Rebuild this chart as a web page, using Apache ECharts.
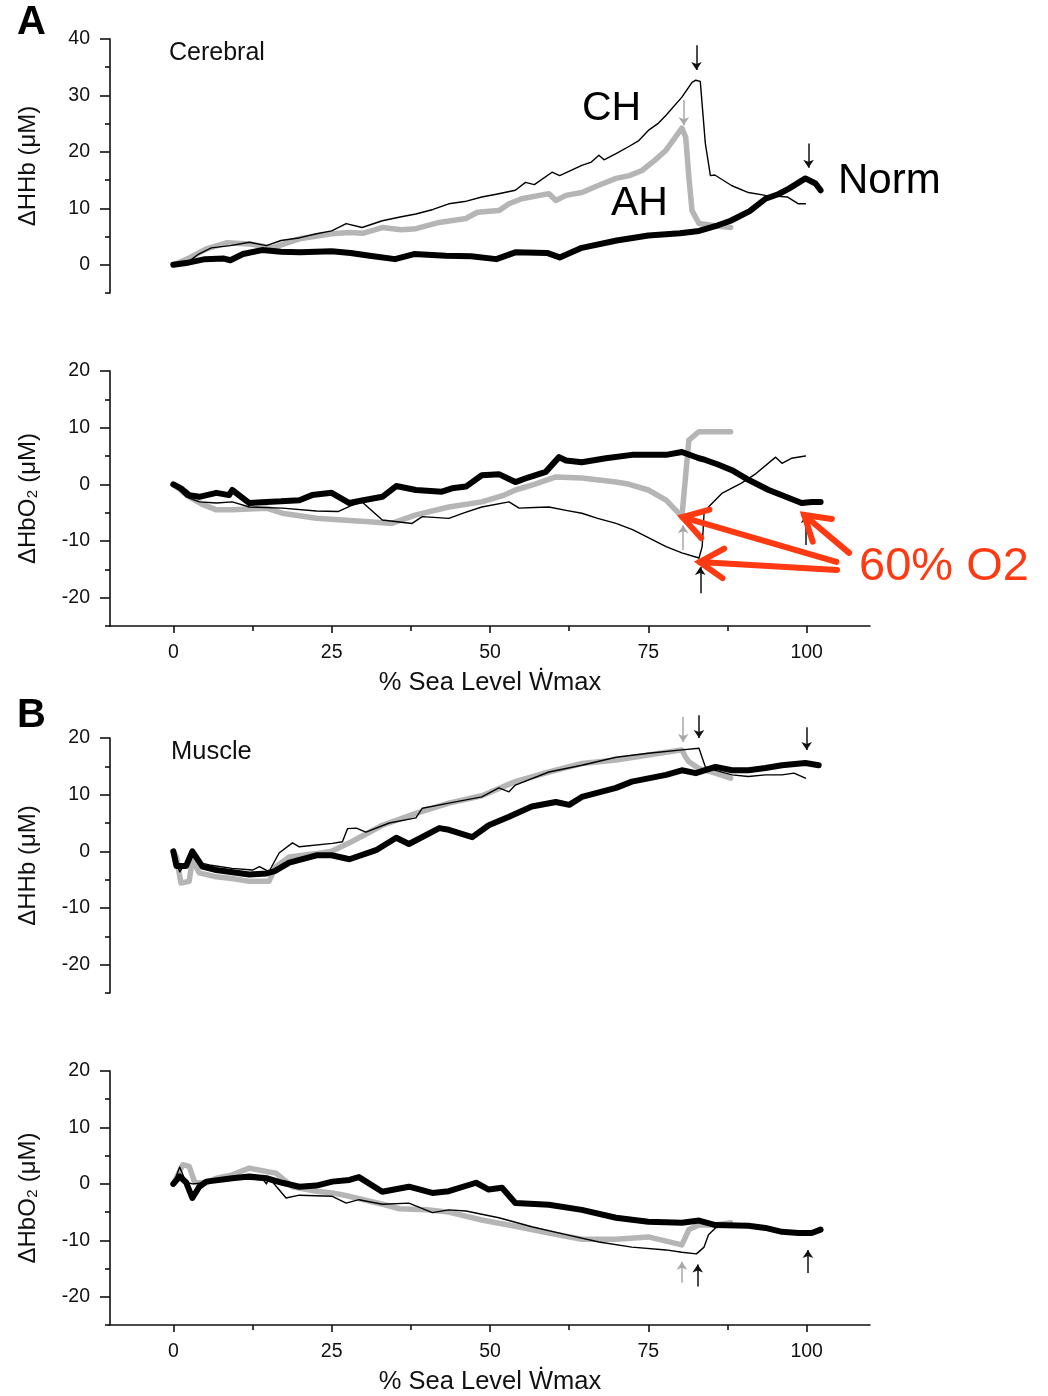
<!DOCTYPE html>
<html><head><meta charset="utf-8">
<script src="https://cdn.jsdelivr.net/npm/echarts@6/dist/echarts.min.js"></script>
<style>html,body{margin:0;padding:0;background:#fff;}#c{width:1048px;height:1396px;}</style>
</head><body><div id="c"></div>
<script>
// ---------- DATA ----------
const xMajorTicks = [0, 25, 50, 75, 100];
const xMinorTicks = [12.5, 37.5, 62.5, 87.5];
const yTicksHHbCere = [0, 10, 20, 30, 40];
const yMinorHHbCere = [-5, 5, 15, 25, 35];
const yTicksOther = [-20, -10, 0, 10, 20];
const yMinorOther = [-25, -15, -5, 5, 15];

// Panel A top: Cerebral ΔHHb
const cereHHb_CH = [[0,0],[2,0.2],[4,1.9],[6,3],[9,3.4],[12,4],[14.7,3.4],[17,4.3],[20,4.8],[22.6,5.5],[25,6],[27.3,7.3],[29.8,6.6],[33,7.8],[36,8.5],[38.3,9],[41,9.8],[43.5,10.8],[46,11.2],[48.7,12],[51,12.5],[54,13.2],[55.6,14.6],[57,14.2],[59.8,16.4],[61,15.8],[64.5,17.6],[66,18.2],[67.2,19.4],[68,18.6],[69.9,19.7],[72,21],[73.5,22],[75,23.8],[76.5,25],[77.8,26.5],[80.3,29.7],[81.9,32.3],[82.5,32.7],[83.2,32.5],[84,21.5],[84.8,15.8],[85.5,15.9],[88.2,14],[90.8,12.8],[93.5,12.3],[97,12],[98.7,10.8],[99.8,10.8]];
const cereHHb_AH = [[0,0],[0.5,0.2],[2.5,1.2],[5.2,2.8],[8.4,3.9],[12,3.7],[15.6,3.0],[19.9,4.6],[25,5.5],[27.8,5.7],[30,5.6],[33,6.6],[36,6.2],[38.3,6.4],[42,7.5],[46.2,8.2],[48,9.3],[51.4,9.6],[53,10.8],[55,11.7],[59.3,12.6],[60.4,11.4],[62,12.3],[64.5,12.8],[67,14],[69.9,15.3],[72,15.8],[74,16.7],[76,18.5],[77.8,20.3],[80.3,24.2],[80.9,22.6],[81.4,15.5],[81.9,9.6],[83,7.3],[85.6,6.9],[88,6.6]];
const cereHHb_Norm = [[0,0],[2,0.3],[5,1],[8,1.1],[9,0.8],[11,1.9],[14,2.6],[17,2.3],[20,2.2],[25,2.4],[28,2.1],[31,1.6],[35,1],[38,1.9],[43,1.6],[47,1.5],[51,1.0],[54,2.2],[59,2.1],[61,1.3],[64.5,3],[70,4.3],[75,5.2],[80,5.6],[83,6],[86,7],[88,7.8],[91,9.5],[93.5,11.7],[95.5,12.5],[97.2,13.5],[99.8,15.3],[101.4,14.4],[102.2,13.2]];

// Panel A bottom: Cerebral ΔHbO2
const cereHbO2_CH = [[0,0],[2,-2.2],[4.1,-3.1],[6.8,-3.3],[9.3,-3.1],[12,-4],[17.2,-4.2],[22.6,-4.7],[26,-4.8],[28,-3.8],[29.8,-3.1],[33,-6.3],[37.7,-6.9],[39.3,-5.7],[43.5,-6],[46,-5],[48.7,-4],[53,-3.1],[54.6,-4.2],[57,-4.1],[59.3,-4],[62,-4.6],[64.5,-5.1],[67,-6],[69.9,-6.9],[72.5,-8],[75,-9.4],[77.8,-11],[80.3,-12.1],[83,-13],[83.5,-11],[83.8,-5.1],[84.5,-4],[86.6,-1.6],[89.7,0.2],[92,1.9],[95.1,4.8],[96.1,3.7],[97.6,4.6],[99.8,5]];
const cereHbO2_AH = [[0,0],[2.5,-2.2],[4.5,-3.5],[6.8,-4.5],[9.3,-4.5],[14.7,-4.2],[17.2,-5.1],[22.6,-6],[27.8,-6.4],[31,-6.6],[34.5,-6.9],[38.3,-5.4],[43.5,-4],[48.7,-3.1],[52,-2],[54,-1],[57,0],[60.4,1.3],[64.5,1.1],[69.9,0.4],[72,0],[75,-1],[77.8,-2.8],[80.3,-5.7],[81.4,7.8],[83,9.3],[85.6,9.3],[88,9.3]];
const cereHbO2_Norm = [[0,0],[1.2,-0.7],[2.5,-1.9],[4.1,-2.2],[6.8,-1.5],[8.8,-1.9],[9.3,-1.0],[12,-3.3],[14.7,-3.1],[17,-3.0],[19.9,-2.8],[21.9,-1.9],[25,-1.5],[27.8,-3.3],[30,-2.8],[33,-2.2],[35.2,-0.3],[38.3,-1],[42.4,-1.3],[44,-0.7],[46.2,-0.4],[48.7,1.6],[51.4,1.8],[54,0.4],[56,1.2],[58.8,2.2],[60.9,4.8],[62,4.2],[64.5,3.9],[68.3,4.6],[72.4,5.2],[77.8,5.2],[80.3,5.7],[83,4.6],[84,4.3],[86,3.5],[88.2,2.5],[90.8,0.8],[94,-1],[97.2,-2.4],[99.2,-3.3],[100.8,-3.1],[102.2,-3.1]];

// Panel B top: Muscle ΔHHb
const muscHHb_CH = [[0,0],[1,-3.6],[2,-2],[3,-0.3],[4.1,-2],[5.7,-2.4],[9.3,-3],[12.5,-3.3],[13.6,-2.7],[15.1,-3.6],[16.7,-0.3],[18.8,1.5],[19.9,0.8],[25.1,1.4],[26.7,1.7],[27.5,4.0],[28.9,4.1],[30.4,3.4],[34.1,5],[38.3,5.9],[39.3,7.6],[43.5,8.5],[48.7,9.6],[51.4,11.2],[53,10.5],[54,11.7],[59.3,14],[64.5,15.2],[69.9,16.6],[75,17.3],[80.3,17.9],[83,18.2],[84,14.9],[85.6,14.3],[88.2,13.5],[90.8,13.2],[93.5,13.5],[96.1,13.5],[98,13.8],[99.8,12.9]];
const muscHHb_AH = [[0,0],[0.5,-1],[1.2,-5.6],[2.5,-5.3],[3,-1.5],[4.1,-3.8],[6.8,-4.5],[9.3,-4.8],[12,-5.3],[15.1,-5.3],[16.2,-2.7],[18.3,-1],[22.6,-0.4],[25,0],[27.8,1.5],[30,2.8],[33,4.6],[38.3,6.7],[43.5,8.5],[48.7,9.8],[54,12.3],[59.3,14],[64.5,15.5],[69.9,16.1],[75,17],[80.3,17.9],[80.9,16.6],[81.4,15.8],[83,14.6],[85.6,13.8],[88,12.9]];
const muscHHb_Norm = [[0,0],[0.5,-2.6],[2,-2.6],[3,0],[4.6,-2.7],[6.8,-3.3],[12,-4.1],[14.7,-3.9],[16,-3.5],[18.3,-2],[22.6,-0.7],[25,-0.7],[27.8,-1.4],[32,0.2],[35.2,2.4],[37.2,1.3],[42,4.1],[43.5,3.8],[47.2,2.5],[49.8,4.6],[53,6.1],[56.6,7.9],[60.4,8.7],[62.5,8.2],[64.5,9.6],[69.9,11.2],[72.4,12.3],[77.8,13.5],[80.3,14.3],[82.5,13.8],[85.6,14.9],[88.2,14.3],[90.8,14.3],[93.5,14.7],[96.1,15.2],[99.8,15.6],[101.9,15.2]];

// Panel B bottom: Muscle ΔHbO2
const muscHbO2_CH = [[0,0],[1,3],[2,0.3],[3,0],[5,0.2],[6.8,0.7],[9.3,1],[14.2,0.7],[14.7,0],[15.1,1.1],[17.8,-2.5],[19.9,-2],[25.1,-2.2],[27.3,-3.4],[29.3,-2.8],[33,-3.6],[37.2,-3.4],[40.9,-5.1],[43.5,-4.6],[46.2,-4.8],[51.4,-6],[56.6,-7.6],[62,-9],[67.2,-10.3],[72.4,-11.2],[77.8,-11.7],[80.3,-12.1],[82.6,-12.4],[83.8,-11.2],[84.5,-9],[85.6,-7.8],[88.2,-7.3]];
const muscHbO2_AH = [[0,0],[1.5,3.4],[2.5,3.1],[3.4,0.2],[5.2,0.2],[6.8,1],[9.3,1.6],[12,2.8],[14.7,2.2],[16.2,1.9],[18.8,-0.5],[22.6,-1.3],[25.1,-1.6],[27.8,-2.2],[33,-3.6],[35.7,-4.4],[40,-4.6],[43.5,-5],[48.7,-6.4],[54,-7.5],[59.3,-8.7],[64.5,-9.8],[69.9,-9.8],[75,-9.4],[80.3,-10.8],[81.4,-8.1],[83,-7.3],[85.6,-7.3],[88,-6.9]];
const muscHbO2_Norm = [[0,0],[1,1.3],[2,0.3],[3,-2.5],[4.1,-0.5],[5.2,0.4],[9.3,1],[12,1.3],[14.7,1],[17.2,0.2],[19.9,-0.5],[22.6,-0.3],[25.1,0.4],[27.8,0.7],[29.3,1.2],[33,-1.4],[37.2,-0.5],[40.9,-1.6],[43.5,-1.3],[47.8,0.2],[49.8,-1],[51.9,-0.7],[54,-3.4],[59.3,-3.7],[64.5,-4.6],[69.9,-6],[75,-6.7],[80.3,-6.9],[83,-6.5],[85.6,-7.3],[90.8,-7.4],[93.5,-7.8],[96.1,-8.5],[98.7,-8.7],[100.8,-8.7],[102.2,-8.1]];

// small 60% O2 marker arrows: [panel, x, yFrom, yTo, color]
const o2Arrows = [
  [0, 82.6, 38.9, 34.5, '#111'], [0, 80.6, 29.2, 24.7, '#a8a8a8'], [0, 100.3, 21.5, 17.2, '#111'],
  [1, 80.5, -11.6, -7.2, '#a8a8a8'], [1, 83.2, -19.2, -14.6, '#111'], [1, 99.9, -10.7, -5.4, '#111'],
  [2, 80.5, 23.7, 19.3, '#a8a8a8'], [2, 83.0, 24.0, 20.0, '#111'], [2, 100.0, 21.9, 17.9, '#111'],
  [3, 80.3, -17.5, -13.8, '#a8a8a8'], [3, 82.8, -18.2, -14.3, '#111'], [3, 100.2, -15.8, -11.7, '#111']
];
// red annotation arrows in panel A-bottom data coords: [fromX, fromY, toX, toY]
const redArrows = [[104.7,-13.7,80.4,-5.8],[104.8,-15.1,83.1,-13.7],[106.7,-12.1,99.6,-5.4]];

// ---------- LAYOUT ----------
const FONT = '"Liberation Sans", Arial, "DejaVu Sans", sans-serif';
const grids = [
  {left:110, width:760, top:39, height:254},
  {left:110, width:760, top:371, height:255},
  {left:110, width:760, top:738, height:255},
  {left:110, width:760, top:1071, height:254}
];
const panelInfo = [
  {ymin:-5, ymax:40, ticks:yTicksHHbCere, minor:yMinorHHbCere, name:'ΔHHb (μM)', showX:false,
   data:[cereHHb_AH, cereHHb_Norm, cereHHb_CH]},
  {ymin:-25, ymax:20, ticks:yTicksOther, minor:yMinorOther, name:'ΔHbO₂ (μM)', showX:true,
   data:[cereHbO2_AH, cereHbO2_Norm, cereHbO2_CH]},
  {ymin:-25, ymax:20, ticks:yTicksOther, minor:yMinorOther, name:'ΔHHb (μM)', showX:false,
   data:[muscHHb_AH, muscHHb_Norm, muscHHb_CH]},
  {ymin:-25, ymax:20, ticks:yTicksOther, minor:yMinorOther, name:'ΔHbO₂ (μM)', showX:true,
   data:[muscHbO2_AH, muscHbO2_Norm, muscHbO2_CH]}
];
const xAxes = [], yAxes = [], series = [];
panelInfo.forEach((p, i) => {
  xAxes.push({
    type:'value', gridIndex:i, min:-10, max:110, position:'bottom', show:p.showX,
    axisLine:{show:true, onZero:false, lineStyle:{color:'#111', width:1.6}},
    axisTick:{show:true, customValues:xMajorTicks, length:7, lineStyle:{color:'#111', width:1.6}},
    axisLabel:{show:true, customValues:xMajorTicks, margin:17, fontSize:19.5, color:'#111', fontFamily:FONT},
    splitLine:{show:false},
    name: p.showX ? '% Sea Level Ẇmax' : '', nameLocation:'middle', nameGap:44,
    nameTextStyle:{fontSize:25.5, color:'#111', fontFamily:FONT}
  });
  xAxes.push({
    type:'value', gridIndex:i, min:-10, max:110, position:'bottom', show:p.showX,
    axisLine:{show:false, onZero:false}, axisLabel:{show:false}, splitLine:{show:false},
    axisTick:{show:true, customValues:xMinorTicks, length:5, lineStyle:{color:'#111', width:1.6}}
  });
  yAxes.push({
    type:'value', gridIndex:i, min:p.ymin, max:p.ymax, position:'left',
    axisLine:{show:true, onZero:false, lineStyle:{color:'#111', width:1.6}},
    axisTick:{show:true, customValues:p.ticks, length:10, lineStyle:{color:'#111', width:1.6}},
    axisLabel:{show:true, customValues:p.ticks, margin:20, fontSize:19.5, color:'#111', fontFamily:FONT},
    splitLine:{show:false},
    name:p.name, nameLocation:'middle', nameRotate:90, nameGap:70,
    nameTextStyle:{fontSize:24, color:'#111', fontFamily:FONT}
  });
  yAxes.push({
    type:'value', gridIndex:i, min:p.ymin, max:p.ymax, position:'left',
    axisLine:{show:false, onZero:false}, axisLabel:{show:false}, splitLine:{show:false},
    axisTick:{show:true, customValues:p.minor, length:5, lineStyle:{color:'#111', width:1.6}}
  });
  const styles = [
    {color:'#b5b5b5', width:5.5, z:2},
    {color:'#000', width:6, z:3},
    {color:'#000', width:1.4, z:4}
  ];
  p.data.forEach((d, k) => {
    series.push({
      type:'line', xAxisIndex:2*i, yAxisIndex:2*i, data:d, showSymbol:false, symbol:'none',
      lineStyle:{color:styles[k].color, width:styles[k].width, join:'round', cap:'round'},
      z:styles[k].z, animation:false, silent:true
    });
  });
  const arr = o2Arrows.filter(a => a[0] === i);
  arr.forEach(a => {
    series.push({
      type:'lines', coordinateSystem:'cartesian2d', xAxisIndex:2*i, yAxisIndex:2*i, clip:false,
      symbol:['none','arrow'], symbolSize:[0,8], z:5, animation:false, silent:true,
      lineStyle:{color:a[4], width:1.5, opacity:1},
      data:[{coords:[[a[1], a[2]], [a[1], a[3]]]}]
    });
  });
});

const texts = [
  {t:'A', x:17, y:26, size:40, weight:'bold', color:'#000'},
  {t:'B', x:17, y:719, size:40, weight:'bold', color:'#000'},
  {t:'Cerebral', x:169, y:55, size:25, color:'#111'},
  {t:'Muscle', x:171, y:754, size:25.5, color:'#111'},
  {t:'CH', x:582, y:112, size:41, color:'#000'},
  {t:'AH', x:611, y:207, size:41, color:'#000'},
  {t:'Norm', x:838, y:185, size:42, color:'#000'},
  {t:'60% O2', x:859, y:571, size:47, color:'#ff3a12'}
];
const graphic = texts.map((s, i) => ({
  type:'text', id:'t'+i, left:s.x, top:s.y - s.size*0.58, z:20,
  style:{text:s.t, font:(s.weight||'normal')+' '+s.size+'px '+FONT, fill:s.color}
}));

const chart = echarts.init(document.getElementById('c'), null, {renderer:'canvas'});
chart.setOption({
  backgroundColor:'#fff', animation:false,
  grid:grids, xAxis:xAxes, yAxis:yAxes, series:series, graphic:graphic
});

// red annotation arrows positioned through panel A-bottom scales
const red = [];
redArrows.forEach((r, i) => {
  const s = chart.convertToPixel({xAxisIndex:2, yAxisIndex:2}, [r[0], r[1]]);
  const t = chart.convertToPixel({xAxisIndex:2, yAxisIndex:2}, [r[2], r[3]]);
  const dx = s[0]-t[0], dy = s[1]-t[1], L = Math.hypot(dx, dy);
  const ux = dx/L, uy = dy/L, ang = 32*Math.PI/180, wl = 28;
  const w1 = [t[0] + wl*(ux*Math.cos(ang) - uy*Math.sin(ang)), t[1] + wl*(ux*Math.sin(ang) + uy*Math.cos(ang))];
  const w2 = [t[0] + wl*(ux*Math.cos(-ang) - uy*Math.sin(-ang)), t[1] + wl*(ux*Math.sin(-ang) + uy*Math.cos(-ang))];
  red.push({type:'polyline', id:'rs'+i, z:30, shape:{points:[s, t]}, style:{stroke:'#ff3a12', lineWidth:6, lineCap:'round'}});
  red.push({type:'polyline', id:'rh'+i, z:30, shape:{points:[w1, t, w2]}, style:{stroke:'#ff3a12', lineWidth:6, lineCap:'round', lineJoin:'miter', fill:null}});
});
chart.setOption({graphic: red});
</script>
</body></html>
